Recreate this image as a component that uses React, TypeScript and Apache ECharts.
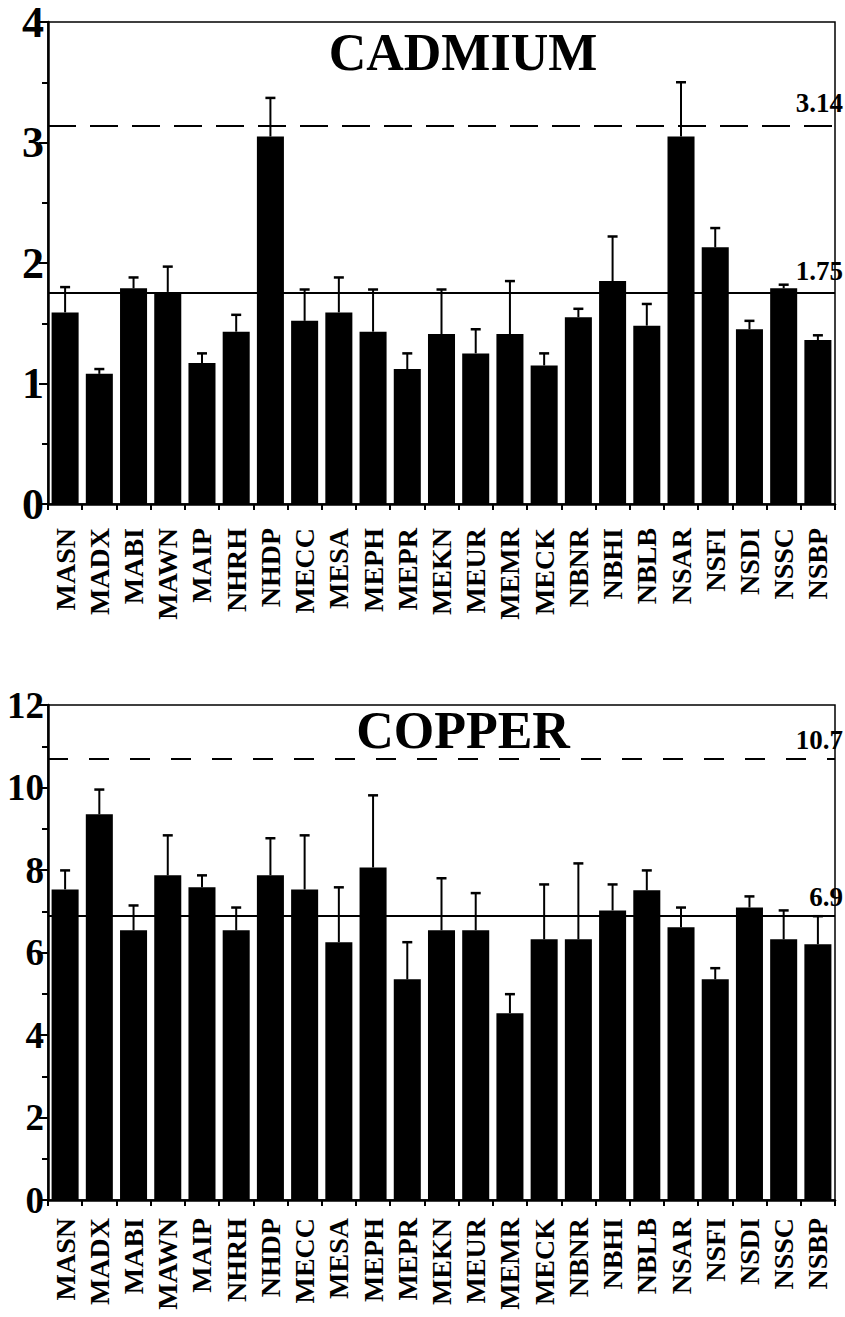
import React, { useEffect, useRef } from "react";
import * as echarts from "echarts";

const CATEGORIES = [
  "MASN", "MADX", "MABI", "MAWN", "MAIP", "NHRH", "NHDP", "MECC", "MESA", "MEPH", "MEPR", "MEKN",
  "MEUR", "MEMR", "MECK", "NBNR", "NBHI", "NBLB", "NSAR", "NSFI", "NSDI", "NSSC", "NSBP",
];

const CD_MEANS = [1.59, 1.08, 1.79, 1.76, 1.17, 1.43, 3.05, 1.52, 1.59, 1.43, 1.12, 1.41, 1.25, 1.41, 1.15, 1.55, 1.85, 1.48, 3.05, 2.13, 1.45, 1.79, 1.36];
const CD_UPPER = [1.8, 1.12, 1.88, 1.97, 1.25, 1.57, 3.37, 1.78, 1.88, 1.78, 1.25, 1.78, 1.45, 1.85, 1.25, 1.62, 2.22, 1.66, 3.5, 2.29, 1.52, 1.82, 1.4];
const CD_REF_HIGH = 3.14;
const CD_REF_LOW = 1.75;
const CD_TICKS = { min: 0, max: 4, interval: 1 };

const CU_MEANS = [7.53, 9.35, 6.54, 7.87, 7.58, 6.54, 7.87, 7.53, 6.25, 8.06, 5.35, 6.54, 6.54, 4.53, 6.32, 6.32, 7.02, 7.51, 6.61, 5.35, 7.09, 6.32, 6.2];
const CU_UPPER = [7.99, 9.95, 7.14, 8.84, 7.87, 7.09, 8.77, 8.84, 7.58, 9.81, 6.25, 7.8, 7.44, 4.99, 7.65, 8.16, 7.65, 7.99, 7.09, 5.62, 7.36, 7.02, 6.88];
const CU_REF_HIGH = 10.7;
const CU_REF_LOW = 6.9;
const CU_TICKS = { min: 0, max: 12, interval: 2 };

const TITLES = ["CADMIUM", "COPPER"];

const FONT = "Liberation Serif";

function errorRender(params: any, api: any) {
  const x = api.value(0);
  const mean = api.value(1);
  const up = api.value(2);
  const p0 = api.coord([x, mean]);
  const p1 = api.coord([x, up]);
  return {
    type: "group",
    children: [
      { type: "line", shape: { x1: p0[0], y1: p0[1], x2: p1[0], y2: p1[1] }, style: { stroke: "#000", lineWidth: 2 } },
      { type: "line", shape: { x1: p1[0] - 5, y1: p1[1], x2: p1[0] + 5, y2: p1[1] }, style: { stroke: "#000", lineWidth: 2.5 } },
    ],
  };
}

function markLines(high: number, low: number, dash: number[], vGap: number) {
  const label = {
    show: true,
    position: "insideEndTop",
    formatter: "{c}",
    fontFamily: FONT,
    fontWeight: "bold",
    fontSize: 27,
    color: "#000",
    distance: [-8, vGap],
  };
  return {
    symbol: "none",
    silent: true,
    animation: false,
    lineStyle: { color: "#000", width: 2 },
    data: [
      { yAxis: high, lineStyle: { type: dash, color: "#000", width: 2 }, label },
      { yAxis: low, lineStyle: { type: "solid", color: "#000", width: 2 }, label },
    ],
  };
}

export default function App() {
  const ref = useRef<HTMLDivElement>(null);
  useEffect(() => {
    document.body.style.margin = "0";
    const chart = echarts.init(ref.current!, undefined, { renderer: "svg" });
    const xAxisBase = (gridIndex: number, margin: number) => ({
      type: "category",
      gridIndex,
      data: CATEGORIES,
      axisLine: { show: true, lineStyle: { color: "#000", width: 2.5 } },
      axisTick: { show: true, interval: 0, length: 6, lineStyle: { color: "#000", width: 2 } },
      axisLabel: {
        interval: 0,
        rotate: 90,
        margin,
        fontFamily: FONT,
        fontWeight: "bold",
        fontSize: 28,
        color: "#000",
      },
      splitLine: { show: false },
    });
    const yAxisBase = (gridIndex: number, ticks: any, fontSize: number) => ({
      type: "value",
      gridIndex,
      min: ticks.min,
      max: ticks.max,
      interval: ticks.interval,
      axisLine: { show: true, lineStyle: { color: "#000", width: 2.5 } },
      axisTick: { show: true, length: 9, lineStyle: { color: "#000", width: 2 } },
      minorTick: { show: true, splitNumber: 2, length: 6, lineStyle: { color: "#000", width: 2 } },
      axisLabel: {
        margin: 4,
        fontFamily: FONT,
        fontWeight: "bold",
        fontSize,
        color: "#000",
      },
      splitLine: { show: false },
      minorSplitLine: { show: false },
    });
    const titleStyle = (text: string) => ({
      text,
      fontFamily: FONT,
      fontWeight: "bold",
      fontSize: 52,
      fill: "#000",
      align: "center",
      verticalAlign: "middle",
    });
    chart.setOption({
      animation: false,
      backgroundColor: "#fff",
      grid: [
        { left: 48, top: 16, width: 787, height: 488, show: true, borderColor: "#000", borderWidth: 1.5, backgroundColor: "transparent" },
        { left: 48, top: 705, width: 787, height: 495, show: true, borderColor: "#000", borderWidth: 1.5, backgroundColor: "transparent" },
      ],
      xAxis: [xAxisBase(0, 24), xAxisBase(1, 18)],
      yAxis: [yAxisBase(0, CD_TICKS, 44), yAxisBase(1, CU_TICKS, 37)],
      graphic: [
        { type: "text", x: 463, y: 52, style: titleStyle(TITLES[0]) },
        { type: "text", x: 463, y: 730, style: titleStyle(TITLES[1]) },
      ],
      series: [
        {
          type: "bar",
          xAxisIndex: 0,
          yAxisIndex: 0,
          data: CD_MEANS,
          barCategoryGap: "21%",
          itemStyle: { color: "#000" },
          markLine: markLines(CD_REF_HIGH, CD_REF_LOW, [28, 14], 9),
        },
        {
          type: "custom",
          xAxisIndex: 0,
          yAxisIndex: 0,
          renderItem: errorRender,
          encode: { x: 0, y: [1, 2] },
          data: CATEGORIES.map((_, i) => [i, CD_MEANS[i], CD_UPPER[i]]),
          z: 3,
        },
        {
          type: "bar",
          xAxisIndex: 1,
          yAxisIndex: 1,
          data: CU_MEANS,
          barCategoryGap: "21%",
          itemStyle: { color: "#000" },
          markLine: markLines(CU_REF_HIGH, CU_REF_LOW, [20, 21], 5),
        },
        {
          type: "custom",
          xAxisIndex: 1,
          yAxisIndex: 1,
          renderItem: errorRender,
          encode: { x: 0, y: [1, 2] },
          data: CATEGORIES.map((_, i) => [i, CU_MEANS[i], CU_UPPER[i]]),
          z: 3,
        },
      ],
    });
    return () => chart.dispose();
  }, []);
  return <div ref={ref} style={{ position: "absolute", left: 0, top: 0, width: 845, height: 1317 }} />;
}
